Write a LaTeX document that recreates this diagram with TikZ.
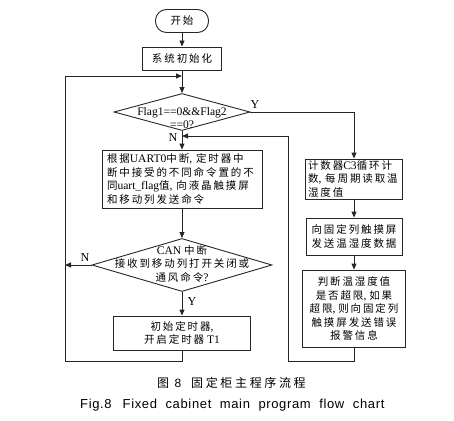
\documentclass[tikz,border=0pt]{standalone}
\usepackage{fontspec}
\setmainfont[Scale=1.1]{Liberation Serif}
\newfontfamily\zhfont[LetterSpace=18]{Noto Sans CJK SC}
\newfontfamily\capzh[LetterSpace=22]{Noto Sans CJK SC}
\newfontfamily\capen[LetterSpace=5]{Liberation Sans}
\newcommand\zh[1]{{\zhfont #1}}
\usetikzlibrary{shapes.geometric,arrows.meta}
\tikzset{
  line/.style={draw=black!85, line width=0.9pt},
  arr/.style={line, -{Triangle[length=6pt,width=5pt]}},
  box/.style={draw=black!85, line width=0.9pt, rectangle, inner sep=0pt,
    font=\fontsize{10.5}{13.5}\selectfont},
  dia/.style={draw=black!85, line width=0.9pt, diamond, inner sep=0pt},
  txt/.style={inner sep=0pt, font=\fontsize{10.5}{13.5}\selectfont, align=center},
  lbl/.style={inner sep=0pt, font=\fontsize{11}{13}\selectfont},
}
\begin{document}
\begin{tikzpicture}[x=1pt,y=-1pt]
\useasboundingbox (0,0) rectangle (454,420);
% main column
\node[box, rounded corners=11pt, minimum width=53pt, minimum height=23pt] (start) at (182,21) {\zh{开始}};
\node[box, minimum width=79pt, minimum height=23pt] (init) at (182,58.5) {\zh{系统初始化}};
\node[dia, minimum width=136pt, minimum height=37pt] (d1) at (182,112) {};
\node[txt] (d1t) at (182,118) {Flag1==0\&\&Flag2\\==0?};
\node[box, minimum width=160pt, minimum height=58pt, text width=150pt, align=left] (uart) at (182,179)
  {\zh{根据}UART0\zh{中断}, \zh{定时器中}\\\zh{断中接受的不同命令置的不}\\\zh{同}uart\_flag\zh{值}, \zh{向液晶触摸屏}\\\zh{和移动列发送命令}};
\node[dia, minimum width=180pt, minimum height=53pt] (d2) at (182,265) {};
\node[txt] (d2t) at (182,264) {CAN \zh{中断}\\\zh{接收到移动列打开关闭或}\\\zh{通风命令}?};
\node[box, minimum width=137pt, minimum height=34pt, align=center] (t1) at (182,333)
  {\zh{初始定时器}, \\\zh{开启定时器} T1};
% right column
\node[box, minimum width=97pt, minimum height=40pt, text width=92pt, align=left] (c1) at (354,179)
  {\zh{计数器}C3\zh{循环计}\\\zh{数}, \zh{每周期读取温}\\\zh{湿度值}};
\node[box, minimum width=96pt, minimum height=37pt, align=center] (c2) at (354,236.5)
  {\zh{向固定列触摸屏}\\\zh{发送温湿度数据}};
\node[box, minimum width=103pt, minimum height=77pt, align=center] (c3) at (354,308.5)
  {\zh{判断温湿度值}\\\zh{是否超限}, \zh{如果}\\\zh{超限}, \zh{则向固定列}\\\zh{触摸屏发送错误}\\\zh{报警信息}};
% loop coordinates
\coordinate (lb) at (65,361);
\coordinate (lt) at (65,76);
\coordinate (ln) at (65,265);
\coordinate (rb) at (288,361);
\coordinate (rt) at (288,136);
% connectors
\draw[arr] (start) -- (init);
\draw[arr] (init) -- (d1);
\draw[arr] (d1) -- (uart);
\draw[arr] (uart) -- (d2);
\draw[arr] (d2) -- (t1);
\draw[arr] (d1.east) -| (c1.north);
\draw[arr] (c1) -- (c2);
\draw[arr] (c2) -- (c3);
\draw[arr] (d2.west) -- (ln);
\draw[arr] (t1.south) |- (lb) -- (lt) -- (lt -| init);
\draw[arr] (c3.south) |- (rb) -- (rt) -- (rt -| d1);
% labels
\node[lbl] (y1) at (255,105) {Y};
\node[lbl] (n1) at (173,138) {N};
\node[lbl] (n2) at (85,258) {N};
\node[lbl] (y2) at (192,302) {Y};
% captions
\node[inner sep=0pt, anchor=west, font=\fontsize{12}{13}\selectfont] (cap1) at (157,383) {\capzh 图 {\capen 8}\hspace{10pt}固定柜主程序流程};
\node[inner sep=0pt, anchor=west, font=\fontsize{13}{15}\selectfont] (cap2) at (80,405) {\capen\spaceskip=8.5pt Fig.8\hspace{11pt}Fixed cabinet main program flow chart};
\end{tikzpicture}
\end{document}
